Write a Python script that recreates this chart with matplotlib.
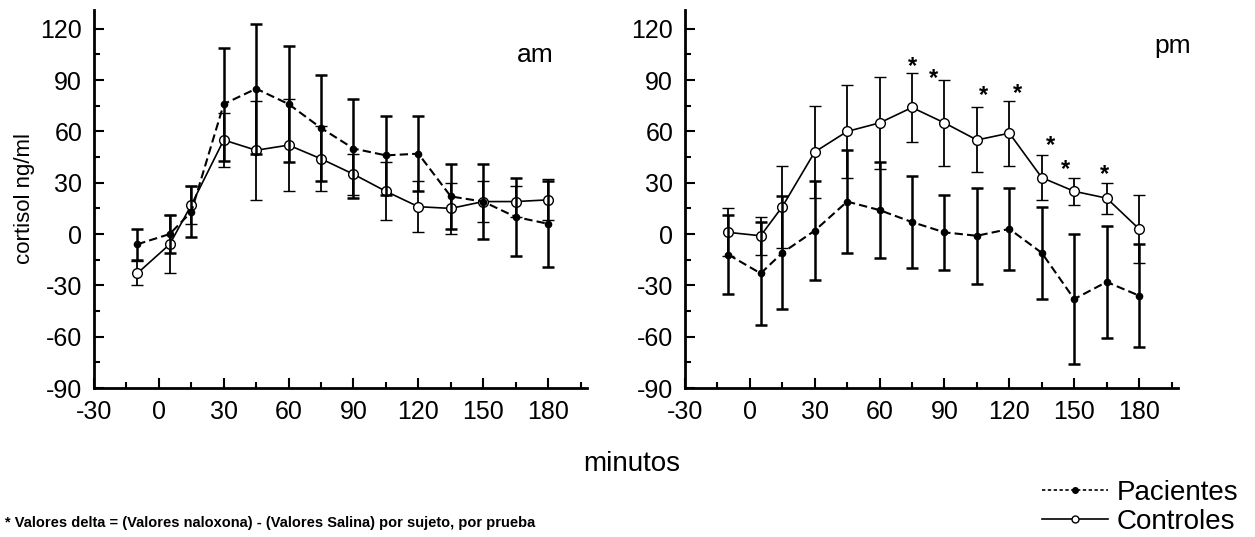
import matplotlib.pyplot as plt
from matplotlib.lines import Line2D
from matplotlib.ticker import MultipleLocator

plt.rcParams['font.family'] = ['Liberation Sans', 'DejaVu Sans']
plt.rcParams['axes.unicode_minus'] = False

# time points (minutos)
minutos = [-10, 5, 15, 30, 45, 60, 75, 90, 105, 120, 135, 150, 165, 180]

# am session
am_pac = [-6, 0, 13, 76, 85, 76, 62, 50, 46, 47, 22, 19, 10, 6]
am_pac_err = [9, 11, 15, 33, 38, 34, 31, 29, 23, 22, 19, 22, 23, 25]
am_con = [-23, -6, 17, 55, 49, 52, 44, 35, 25, 16, 15, 19, 19, 20]
am_con_err = [7, 17, 11, 16, 29, 27, 19, 12, 17, 15, 15, 12, 9, 12]

# pm session
pm_pac = [-12, -23, -11, 2, 19, 14, 7, 1, -1, 3, -11, -38, -28, -36]
pm_pac_err = [23, 30, 33, 29, 30, 28, 27, 22, 28, 24, 27, 38, 33, 30]
pm_con = [1, -1, 16, 48, 60, 65, 74, 65, 55, 59, 33, 25, 21, 3]
pm_con_err = [14, 11, 24, 27, 27, 27, 20, 25, 19, 19, 13, 8, 9, 20]

# significance marks (pm)
ast_x = [75, 85, 108, 124, 139, 146, 164]
ast_y = [98, 91, 81, 82, 52, 38, 35]

fig = plt.figure(figsize=(12.55, 5.37), dpi=100)
ax1 = fig.add_axes([94 / 1255, 149 / 537, 493 / 1255, 378 / 537])
ax2 = fig.add_axes([685 / 1255, 149 / 537, 493 / 1255, 378 / 537])


def draw(ax, pac, pac_err, con, con_err):
    ax.errorbar(minutos, con, yerr=con_err, color='black', lw=1.2, elinewidth=1.3,
                capsize=4, capthick=1.3, marker='o', ms=7, mfc='white', mec='black',
                mew=1.0, ls='-', zorder=3)
    ax.errorbar(minutos, pac, yerr=pac_err, color='black', lw=1.5, elinewidth=1.8,
                capsize=4, capthick=1.8, marker='o', ms=4.5, mfc='black', mec='black',
                ls=(0, (4, 2)), zorder=4)
    ax.set_xlim(-30, 198)
    ax.set_ylim(-90, 131)
    ax.set_xticks([-30, 0, 30, 60, 90, 120, 150, 180])
    ax.set_yticks([-90, -60, -30, 0, 30, 60, 90, 120])
    ax.xaxis.set_minor_locator(MultipleLocator(15))
    ax.yaxis.set_minor_locator(MultipleLocator(15))
    ax.tick_params(which='both', direction='in', width=1.5, labelsize=18, pad=8.5)
    ax.tick_params(which='major', length=7)
    ax.tick_params(which='minor', length=4)
    ax.spines['top'].set_visible(False)
    ax.spines['right'].set_visible(False)
    for s in ('left', 'bottom'):
        ax.spines[s].set_linewidth(2)


draw(ax1, am_pac, am_pac_err, am_con, am_con_err)
draw(ax2, pm_pac, pm_pac_err, pm_con, pm_con_err)

ax1.set_ylabel('cortisol ng/ml', fontsize=16, labelpad=4)
ax1.text(0.895, 0.88, 'am', transform=ax1.transAxes, fontsize=19, ha='center', va='center')
ax2.text(0.99, 0.905, 'pm', transform=ax2.transAxes, fontsize=19, ha='center', va='center')

for x, y in zip(ast_x, ast_y):
    ax2.text(x, y, '*', fontsize=17, fontweight='bold', ha='center', va='center')

fig.text(632 / 1255, 1 - 464 / 537, 'minutos', fontsize=20, ha='center', va='center')
fig.text(5 / 1255, 1 - 523 / 537,
         '* Valores delta = (Valores naloxona) - (Valores Salina) por sujeto, por prueba',
         fontsize=10.5, fontweight='bold', ha='left', va='center')

handles = [
    Line2D([], [], color='black', ls=(0, (2, 1.5)), lw=1.2, marker='o', ms=4, mfc='black'),
    Line2D([], [], color='black', ls='-', lw=1.2, marker='o', ms=5, mfc='white'),
]
fig.legend(handles, ['Pacientes', 'Controles'], loc='lower right',
           bbox_to_anchor=(1.0, -0.027), frameon=False, fontsize=20,
           handlelength=2.4, handletextpad=0.3, labelspacing=0.1, borderaxespad=0.2)

fig.savefig('out.png', dpi=100)
